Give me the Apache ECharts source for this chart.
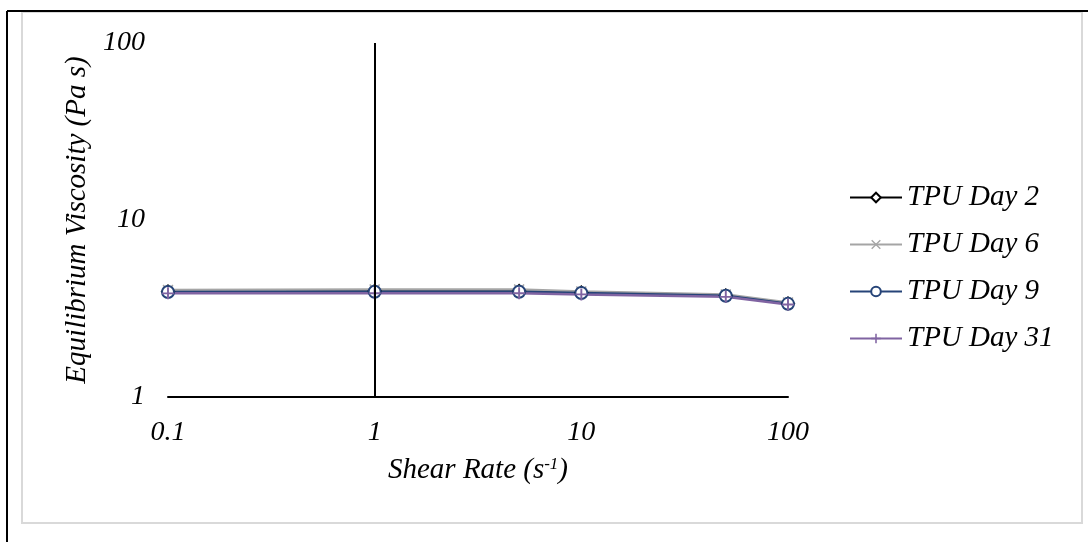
<!DOCTYPE html>
<html>
<head>
<meta charset="utf-8">
<script src="https://cdn.jsdelivr.net/npm/echarts@6/dist/echarts.min.js"></script>
<style>
  html, body { margin: 0; padding: 0; background: #fff; }
  #chart { width: 1088px; height: 542px; }
</style>
</head>
<body>
<div id="chart"></div>
<script>
// shear rate (s^-1)
var shearRates = [0.1, 1, 5, 10, 50, 100];
// equilibrium viscosity (Pa s)
var day2 = [3.95, 3.97, 3.97, 3.90, 3.75, 3.38];
var day6 = [4.02, 4.05, 4.05, 3.95, 3.80, 3.42];
var day9 = [3.92, 3.93, 3.93, 3.87, 3.73, 3.36];
var day31 = [3.85, 3.86, 3.86, 3.80, 3.68, 3.33];
var seriesNames = ['TPU Day 2', 'TPU Day 6', 'TPU Day 9', 'TPU Day 31'];
var crossAt = [1];

var FONT = '"Liberation Serif", "Times New Roman", serif';
var crossSym = 'path://M0,1 L1,0 L5,4 L9,0 L10,1 L6,5 L10,9 L9,10 L5,6 L1,10 L0,9 L4,5 Z';
var plusSym = 'path://M4.2,0 H5.8 V4.2 H10 V5.8 H5.8 V10 H4.2 V5.8 H0 V4.2 H4.2 Z';

function pairs(ys) {
    return shearRates.map(function (x, i) { return [x, ys[i]]; });
}

var myChart = echarts.init(document.getElementById('chart'));

var option = {
    backgroundColor: '#fff',
    animation: false,
    graphic: [
        // chart area border (excel style)
        { type: 'rect', shape: { x: 22, y: 12, width: 1060, height: 511 },
          style: { fill: 'none', stroke: '#d9d9d9', lineWidth: 2 }, z: -1 },
        { type: 'line', shape: { x1: 7, y1: 11, x2: 1088, y2: 11 },
          style: { stroke: '#000', lineWidth: 2 } },
        { type: 'line', shape: { x1: 7, y1: 11, x2: 7, y2: 542 },
          style: { stroke: '#000', lineWidth: 2 } }
    ],
    grid: { left: 168, right: 300, top: 43, bottom: 145 },
    legend: {
        orient: 'vertical',
        left: 844,
        top: 178,
        itemWidth: 52,
        itemHeight: 12,
        itemGap: 18,
        data: seriesNames,
        textStyle: { fontFamily: FONT, fontStyle: 'italic', fontSize: 29, color: '#000' }
    },
    xAxis: {
        type: 'log',
        logBase: 10,
        min: 0.1,
        max: 100,
        name: 'Shear Rate (s{sup|-1})',
        nameLocation: 'middle',
        nameGap: 59,
        nameTextStyle: {
            fontFamily: FONT, fontStyle: 'italic', fontSize: 29, color: '#000',
            rich: { sup: { fontFamily: FONT, fontStyle: 'italic', fontSize: 17, color: '#000', verticalAlign: 'top', padding: [0, 0, 12, 0] } }
        },
        axisLine: { show: true, lineStyle: { color: '#000', width: 2 } },
        axisTick: { show: false },
        splitLine: { show: false },
        axisLabel: {
            margin: 22,
            fontFamily: FONT, fontStyle: 'italic', fontSize: 28, color: '#000',
            formatter: function (v) { return v < 1 ? String(+v.toFixed(1)) : String(Math.round(v)); }
        }
    },
    yAxis: {
        type: 'log',
        logBase: 10,
        min: 1,
        max: 100,
        name: 'Equilibrium Viscosity (Pa s)',
        nameLocation: 'middle',
        nameGap: 72,
        nameTextStyle: { fontFamily: FONT, fontStyle: 'italic', fontSize: 29, color: '#000' },
        axisLine: { show: false },
        axisTick: { show: false },
        splitLine: { show: false },
        axisLabel: {
            margin: 23,
            fontFamily: FONT, fontStyle: 'italic', fontSize: 28, color: '#000'
        }
    },
    series: [
        {
            name: seriesNames[0], type: 'line', data: pairs(day2),
            symbol: 'emptyDiamond', symbolSize: 12,
            lineStyle: { color: '#000', width: 2.5 },
            itemStyle: { color: '#000', borderWidth: 2 },
            markLine: {
                silent: true, symbol: 'none', label: { show: false },
                lineStyle: { color: '#000', width: 2, type: 'solid' },
                data: crossAt.map(function (v) { return { xAxis: v }; })
            }
        },
        {
            name: seriesNames[1], type: 'line', data: pairs(day6),
            symbol: crossSym, symbolSize: 11,
            lineStyle: { color: '#a5a5a5', width: 2.5 },
            itemStyle: { color: '#a5a5a5' }
        },
        {
            name: seriesNames[2], type: 'line', data: pairs(day9),
            symbol: 'emptyCircle', symbolSize: 12,
            lineStyle: { color: '#264478', width: 2.5 },
            itemStyle: { color: '#264478', borderWidth: 2.5 }
        },
        {
            name: seriesNames[3], type: 'line', data: pairs(day31),
            symbol: plusSym, symbolSize: 12,
            lineStyle: { color: '#8064a2', width: 2.5 },
            itemStyle: { color: '#8064a2' }
        }
    ]
};

myChart.setOption(option);
</script>
</body>
</html>
